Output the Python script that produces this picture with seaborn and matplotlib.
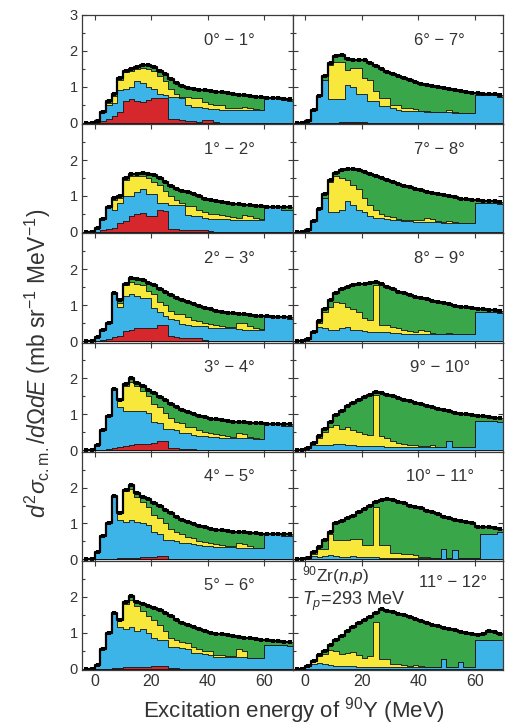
import numpy as np
import pandas as pd
import matplotlib
matplotlib.use("Agg")
import matplotlib.pyplot as plt
from matplotlib.ticker import FixedLocator
import seaborn as sns

# Excitation-energy bins (MeV), 2 MeV wide, from -4 to 70
edges = list(range(-4, 72, 2))
centers = [e + 1 for e in edges[:-1]]

# Each list gives, per bin, the upper edge of a layer (mb sr^-1 MeV^-1).
# "data" is the measured spectrum (green region lies beneath it),
# "yellow", "blue", "red" are the cumulative tops of the lower layers.

data_0_1 = [0, 0, 0.05, 0.30, 0.60, 0.80, 1.25, 1.45, 1.50, 1.55, 1.62, 1.60, 1.55, 1.45, 1.35, 1.22, 1.10,
            1.02, 0.98, 0.95, 0.92, 0.90, 0.88, 0.86, 0.85, 0.83, 0.80, 0.78, 0.76, 0.74, 0.72, 0.71,
            0.70, 0.70, 0.69, 0.67, 0.65]
yellow_0_1 = [0, 0, 0.05, 0.30, 0.55, 0.75, 1.20, 1.40, 1.45, 1.50, 1.52, 1.50, 1.45, 1.30, 1.15, 0.95, 0.80,
              0.72, 0.72, 0.70, 0.68, 0.58, 0.52, 0.50, 0.48, 0.42, 0.40, 0.40, 0.45, 0.42, 0.38, 0.36,
              0.68, 0.70, 0.69, 0.62, 0.60]
blue_0_1 = [0, 0, 0.05, 0.30, 0.50, 0.55, 0.90, 0.95, 1.00, 1.15, 1.10, 1.00, 0.95, 0.80, 0.78, 0.72, 0.72,
            0.70, 0.50, 0.45, 0.45, 0.40, 0.38, 0.38, 0.36, 0.36, 0.35, 0.35, 0.35, 0.35, 0.35, 0.35,
            0.68, 0.70, 0.69, 0.62, 0.60]
red_0_1 = [0, 0, 0.00, 0.05, 0.10, 0.20, 0.30, 0.60, 0.65, 0.60, 0.58, 0.62, 0.70, 0.70, 0.68, 0.10, 0.10,
           0.08, 0.05, 0.05, 0.03, 0.08, 0.08, 0.03, 0, 0, 0, 0, 0, 0, 0, 0,
           0, 0, 0, 0, 0]

data_1_2 = [0, 0, 0.10, 0.35, 0.70, 0.95, 1.00, 1.50, 1.60, 1.62, 1.65, 1.62, 1.58, 1.50, 1.40, 1.28, 1.20,
            1.15, 1.10, 1.05, 1.00, 0.93, 0.90, 0.87, 0.84, 0.81, 0.79, 0.77, 0.75, 0.74, 0.72, 0.71,
            0.70, 0.70, 0.69, 0.68, 0.68]
yellow_1_2 = [0, 0, 0.10, 0.35, 0.70, 0.90, 0.95, 1.45, 1.55, 1.55, 1.55, 1.50, 1.40, 1.30, 1.15, 1.00, 0.90,
              0.80, 0.72, 0.72, 0.62, 0.55, 0.50, 0.50, 0.46, 0.44, 0.42, 0.40, 0.48, 0.45, 0.38, 0.35,
              0.70, 0.70, 0.69, 0.62, 0.62]
blue_1_2 = [0, 0, 0.10, 0.35, 0.70, 0.62, 0.80, 1.00, 1.00, 1.10, 1.20, 1.05, 1.05, 0.80, 0.80, 0.75, 0.75,
            0.75, 0.48, 0.45, 0.45, 0.40, 0.36, 0.36, 0.35, 0.35, 0.34, 0.34, 0.34, 0.34, 0.33, 0.33,
            0.70, 0.70, 0.69, 0.62, 0.62]
red_1_2 = [0, 0, 0.00, 0.05, 0.07, 0.10, 0.26, 0.30, 0.44, 0.50, 0.54, 0.45, 0.44, 0.60, 0.58, 0.07, 0.07,
           0.06, 0.05, 0.05, 0.04, 0.04, 0.03, 0, 0, 0, 0, 0, 0, 0, 0, 0,
           0, 0, 0, 0, 0]

data_2_3 = [0, 0, 0.10, 0.32, 0.50, 1.35, 1.15, 1.60, 1.76, 1.72, 1.70, 1.62, 1.55, 1.46, 1.37, 1.28, 1.20,
            1.14, 1.08, 1.03, 0.97, 0.92, 0.88, 0.84, 0.82, 0.79, 0.77, 0.76, 0.74, 0.72, 0.71, 0.70,
            0.69, 0.68, 0.68, 0.67, 0.67]
yellow_2_3 = [0, 0, 0.10, 0.32, 0.50, 1.35, 1.05, 1.55, 1.65, 1.60, 1.55, 1.40, 1.30, 1.10, 1.00, 0.85, 0.75,
              0.75, 0.68, 0.60, 0.55, 0.50, 0.48, 0.44, 0.42, 0.40, 0.38, 0.50, 0.50, 0.42, 0.35, 0.33,
              0.69, 0.68, 0.68, 0.67, 0.62]
blue_2_3 = [0, 0, 0.10, 0.32, 0.50, 1.35, 0.95, 1.25, 1.30, 1.25, 1.20, 1.20, 0.93, 0.80, 0.70, 0.62, 0.60,
            0.47, 0.46, 0.42, 0.42, 0.42, 0.37, 0.37, 0.36, 0.36, 0.35, 0.33, 0.32, 0.32, 0.30, 0.30,
            0.69, 0.68, 0.68, 0.67, 0.62]
red_2_3 = [0, 0, 0.00, 0.03, 0.05, 0.10, 0.14, 0.28, 0.30, 0.37, 0.37, 0.37, 0.35, 0.46, 0.46, 0.14, 0.12,
           0.09, 0.09, 0.08, 0.08, 0.02, 0, 0, 0, 0, 0, 0, 0, 0, 0, 0,
           0, 0, 0, 0, 0]

data_3_4 = [0, 0, 0.15, 0.55, 0.95, 1.70, 1.40, 1.85, 2.00, 1.88, 1.78, 1.68, 1.58, 1.48, 1.40, 1.30, 1.20,
            1.12, 1.06, 1.00, 0.95, 0.92, 0.88, 0.86, 0.84, 0.82, 0.80, 0.79, 0.78, 0.77, 0.76, 0.75,
            0.74, 0.74, 0.73, 0.72, 0.72]
yellow_3_4 = [0, 0, 0.15, 0.55, 0.95, 1.70, 1.40, 1.80, 1.90, 1.80, 1.65, 1.50, 1.30, 1.20, 1.05, 0.90, 0.80,
              0.75, 0.65, 0.65, 0.55, 0.52, 0.48, 0.45, 0.42, 0.40, 0.38, 0.48, 0.46, 0.38, 0.34, 0.32,
              0.74, 0.74, 0.73, 0.68, 0.68]
blue_3_4 = [0, 0, 0.15, 0.55, 0.95, 1.70, 1.20, 1.10, 1.10, 1.10, 1.08, 1.05, 0.78, 0.75, 0.60, 0.58, 0.55,
            0.49, 0.48, 0.42, 0.40, 0.40, 0.38, 0.36, 0.35, 0.35, 0.35, 0.34, 0.33, 0.33, 0.32, 0.32,
            0.74, 0.74, 0.73, 0.68, 0.68]
red_3_4 = [0, 0, 0.00, 0.02, 0.04, 0.06, 0.08, 0.12, 0.15, 0.17, 0.17, 0.17, 0.20, 0.26, 0.26, 0.07, 0.06,
           0.04, 0.03, 0.03, 0.02, 0, 0, 0, 0, 0, 0, 0, 0, 0, 0, 0,
           0, 0, 0, 0, 0]

data_4_5 = [0, 0, 0.20, 0.65, 1.00, 1.76, 1.30, 1.94, 2.08, 1.85, 1.75, 1.67, 1.58, 1.48, 1.38, 1.28, 1.18,
            1.10, 1.04, 0.98, 0.93, 0.90, 0.86, 0.83, 0.81, 0.79, 0.77, 0.76, 0.75, 0.74, 0.73, 0.72,
            0.72, 0.71, 0.71, 0.70, 0.70]
yellow_4_5 = [0, 0, 0.20, 0.65, 1.00, 1.76, 1.30, 1.90, 1.95, 1.75, 1.60, 1.45, 1.25, 1.15, 1.00, 0.85, 0.75,
              0.70, 0.62, 0.60, 0.52, 0.48, 0.45, 0.42, 0.40, 0.38, 0.36, 0.45, 0.44, 0.36, 0.33, 0.31,
              0.72, 0.71, 0.71, 0.66, 0.66]
blue_4_5 = [0, 0, 0.20, 0.65, 1.00, 1.76, 1.10, 1.05, 1.10, 1.05, 1.00, 0.95, 0.75, 0.72, 0.55, 0.55, 0.52,
            0.46, 0.45, 0.42, 0.40, 0.38, 0.36, 0.35, 0.35, 0.34, 0.34, 0.33, 0.32, 0.32, 0.31, 0.31,
            0.72, 0.71, 0.71, 0.66, 0.66]
red_4_5 = [0, 0, 0, 0, 0.01, 0.02, 0.03, 0.04, 0.05, 0.05, 0.06, 0.06, 0.08, 0.10, 0.10, 0.02, 0.02,
           0.01, 0.01, 0, 0, 0, 0, 0, 0, 0, 0, 0, 0, 0, 0, 0,
           0, 0, 0, 0, 0]

data_5_6 = [0, 0, 0.10, 0.55, 1.00, 1.55, 1.35, 1.85, 2.02, 1.85, 1.80, 1.75, 1.70, 1.62, 1.55, 1.45, 1.35,
            1.28, 1.20, 1.15, 1.10, 1.05, 1.00, 0.97, 0.95, 0.93, 0.90, 0.88, 0.86, 0.84, 0.82, 0.80,
            0.79, 0.77, 0.76, 0.75, 0.73]
yellow_5_6 = [0, 0, 0.10, 0.55, 1.00, 1.55, 1.35, 1.80, 1.90, 1.75, 1.60, 1.45, 1.35, 1.20, 1.05, 0.85, 0.80,
              0.75, 0.70, 0.60, 0.55, 0.50, 0.48, 0.38, 0.37, 0.36, 0.35, 0.55, 0.50, 0.30, 0.30, 0.30,
              0.65, 0.66, 0.66, 0.66, 0.64]
blue_5_6 = [0, 0, 0.10, 0.55, 1.00, 1.55, 1.15, 1.10, 1.15, 1.05, 1.10, 1.00, 0.85, 0.80, 0.80, 0.60, 0.60,
            0.58, 0.55, 0.42, 0.42, 0.40, 0.38, 0.33, 0.32, 0.32, 0.32, 0.32, 0.32, 0.30, 0.30, 0.30,
            0.65, 0.66, 0.66, 0.66, 0.64]
red_5_6 = [0, 0, 0, 0, 0, 0.01, 0.02, 0.03, 0.04, 0.04, 0.05, 0.05, 0.06, 0.07, 0.07, 0.02, 0.01,
           0, 0, 0, 0, 0, 0, 0, 0, 0, 0, 0, 0, 0, 0, 0,
           0, 0, 0, 0, 0]

data_6_7 = [0, 0, 0.05, 0.35, 0.75, 1.30, 1.65, 1.85, 1.90, 1.78, 1.76, 1.76, 1.74, 1.65, 1.58, 1.50, 1.42,
            1.36, 1.30, 1.25, 1.19, 1.13, 1.09, 1.06, 1.03, 1.00, 0.97, 0.94, 0.92, 0.89, 0.86, 0.84,
            0.82, 0.80, 0.80, 0.79, 0.78]
yellow_6_7 = [0, 0, 0.05, 0.35, 0.75, 1.20, 1.62, 1.70, 1.70, 1.48, 1.53, 1.53, 1.25, 1.20, 0.88, 0.70, 0.70,
              0.50, 0.50, 0.42, 0.42, 0.38, 0.32, 0.32, 0.30, 0.30, 0.30, 0.35, 0.30, 0.28, 0.28, 0.28,
              0.76, 0.76, 0.76, 0.76, 0.72]
blue_6_7 = [0, 0, 0.05, 0.35, 0.75, 1.20, 0.65, 0.65, 0.65, 1.05, 1.00, 0.79, 0.79, 0.60, 0.60, 0.46, 0.46,
            0.40, 0.35, 0.32, 0.32, 0.32, 0.32, 0.30, 0.30, 0.30, 0.30, 0.30, 0.28, 0.28, 0.28, 0.28,
            0.76, 0.76, 0.76, 0.76, 0.72]
red_6_7 = [0, 0, 0, 0, 0, 0, 0, 0, 0.01, 0.02, 0.02, 0.02, 0.01, 0, 0, 0, 0,
           0, 0, 0, 0, 0, 0, 0, 0, 0, 0, 0, 0, 0, 0, 0,
           0, 0, 0, 0, 0]

data_7_8 = [0, 0, 0.05, 0.30, 0.65, 1.05, 1.45, 1.65, 1.72, 1.75, 1.75, 1.72, 1.68, 1.62, 1.56, 1.50, 1.45,
            1.40, 1.34, 1.29, 1.24, 1.20, 1.16, 1.12, 1.08, 1.05, 1.02, 0.99, 0.96, 0.93, 0.91, 0.89,
            0.88, 0.87, 0.86, 0.85, 0.84]
yellow_7_8 = [0, 0, 0.05, 0.30, 0.65, 0.95, 1.40, 1.55, 1.50, 1.45, 1.30, 1.20, 0.95, 0.75, 0.60, 0.50, 0.45,
              0.42, 0.36, 0.34, 0.34, 0.32, 0.32, 0.40, 0.36, 0.30, 0.28, 0.30, 0.28, 0.26, 0.26, 0.25,
              0.80, 0.80, 0.80, 0.80, 0.78]
blue_7_8 = [0, 0, 0.05, 0.30, 0.65, 0.95, 0.55, 0.55, 0.60, 0.85, 0.75, 0.60, 0.55, 0.45, 0.40, 0.38, 0.36,
            0.34, 0.32, 0.30, 0.30, 0.28, 0.28, 0.28, 0.27, 0.27, 0.26, 0.26, 0.26, 0.26, 0.26, 0.25,
            0.80, 0.80, 0.80, 0.80, 0.78]

data_8_9 = [0, 0, 0.05, 0.25, 0.55, 0.90, 1.15, 1.35, 1.45, 1.50, 1.55, 1.58, 1.60, 1.62, 1.65, 1.58, 1.50,
            1.44, 1.38, 1.33, 1.28, 1.24, 1.20, 1.16, 1.12, 1.08, 1.05, 1.02, 0.99, 0.96, 0.94, 0.92,
            0.90, 0.88, 0.87, 0.86, 0.85]
yellow_8_9 = [0, 0, 0.05, 0.25, 0.50, 0.80, 0.95, 1.10, 1.05, 0.95, 0.90, 0.80, 0.65, 0.60, 1.55, 0.45, 0.45,
              0.40, 0.36, 0.30, 0.28, 0.25, 0.30, 0.28, 0.22, 0.20, 0.20, 0.22, 0.20, 0.20, 0.20, 0.20,
              0.80, 0.80, 0.80, 0.80, 0.78]
blue_8_9 = [0, 0, 0.05, 0.25, 0.40, 0.35, 0.30, 0.30, 0.35, 0.40, 0.30, 0.30, 0.28, 0.26, 0.25, 0.25, 0.24,
            0.22, 0.22, 0.20, 0.20, 0.20, 0.20, 0.20, 0.20, 0.20, 0.20, 0.20, 0.20, 0.20, 0.20, 0.20,
            0.80, 0.80, 0.80, 0.80, 0.78]

data_9_10 = [0, 0, 0.05, 0.20, 0.40, 0.60, 0.80, 0.98, 1.10, 1.22, 1.32, 1.40, 1.47, 1.53, 1.62, 1.58, 1.54,
             1.50, 1.45, 1.40, 1.36, 1.32, 1.28, 1.24, 1.20, 1.16, 1.12, 1.08, 1.05, 1.02, 1.00, 0.98,
             0.96, 0.94, 0.92, 0.91, 0.90]
yellow_9_10 = [0, 0, 0.05, 0.20, 0.35, 0.50, 0.65, 0.70, 0.60, 0.65, 0.55, 0.50, 0.45, 0.42, 1.55, 0.40, 0.35,
               0.25, 0.20, 0.18, 0.15, 0.15, 0.12, 0.12, 0.15, 0.10, 0.10, 0.25, 0.10, 0.10, 0.10, 0.10,
               0.82, 0.82, 0.82, 0.82, 0.80]
blue_9_10 = [0, 0, 0.05, 0.15, 0.15, 0.15, 0.15, 0.18, 0.18, 0.15, 0.15, 0.12, 0.12, 0.12, 0.12, 0.12, 0.10,
             0.10, 0.10, 0.10, 0.10, 0.10, 0.10, 0.10, 0.10, 0.10, 0.10, 0.25, 0.10, 0.10, 0.10, 0.10,
             0.82, 0.82, 0.82, 0.82, 0.80]

data_10_11 = [0, 0, 0.05, 0.20, 0.35, 0.55, 0.77, 1.00, 1.07, 1.14, 1.22, 1.32, 1.40, 1.50, 1.60, 1.66, 1.69,
              1.65, 1.60, 1.56, 1.50, 1.46, 1.42, 1.36, 1.32, 1.26, 1.19, 1.14, 1.09, 1.07, 1.05, 1.02,
              0.91, 0.91, 0.90, 0.88, 0.86]
yellow_10_11 = [0, 0, 0.05, 0.15, 0.30, 0.30, 0.72, 0.54, 0.54, 0.54, 0.58, 0.58, 0.40, 0.40, 1.46, 0.40, 0.40,
                0.17, 0.17, 0.15, 0.15, 0.12, 0.08, 0.06, 0.05, 0.05, 0.30, 0.05, 0.25, 0.05, 0.05, 0.05,
                0.05, 0.72, 0.72, 0.72, 0.75]
blue_10_11 = [0, 0, 0.05, 0.10, 0.08, 0.10, 0.12, 0.10, 0.08, 0.08, 0.10, 0.08, 0.06, 0.06, 0.06, 0.05, 0.05,
              0.05, 0.05, 0.04, 0.04, 0.04, 0.04, 0.04, 0.04, 0.04, 0.30, 0.05, 0.25, 0.05, 0.05, 0.05,
              0.05, 0.72, 0.72, 0.72, 0.75]

data_11_12 = [0, 0, 0.08, 0.22, 0.38, 0.50, 0.65, 0.79, 0.90, 1.05, 1.16, 1.26, 1.36, 1.44, 1.55, 1.65, 1.60,
              1.57, 1.52, 1.48, 1.44, 1.39, 1.33, 1.28, 1.22, 1.18, 1.14, 1.10, 1.06, 1.02, 0.98, 0.95,
              0.93, 0.97, 1.04, 1.02, 0.96]
yellow_11_12 = [0, 0, 0.08, 0.20, 0.35, 0.40, 0.52, 0.48, 0.40, 0.42, 0.45, 0.38, 0.30, 0.35, 1.30, 0.28, 0.28,
                0.14, 0.14, 0.10, 0.08, 0.10, 0.06, 0.05, 0.04, 0.04, 0.28, 0.04, 0.04, 0.18, 0.04, 0.04,
                0.79, 0.79, 0.79, 0.79, 0.79]
blue_11_12 = [0, 0, 0.08, 0.12, 0.15, 0.12, 0.10, 0.08, 0.06, 0.06, 0.06, 0.05, 0.05, 0.05, 0.05, 0.05, 0.05,
              0.04, 0.04, 0.04, 0.04, 0.04, 0.04, 0.04, 0.04, 0.04, 0.28, 0.04, 0.04, 0.18, 0.04, 0.04,
              0.79, 0.79, 0.79, 0.79, 0.79]

# angular bins: left column 0-6 deg, right column 6-12 deg
panels = [
    ("0° − 1°", data_0_1, yellow_0_1, blue_0_1, red_0_1),
    ("1° − 2°", data_1_2, yellow_1_2, blue_1_2, red_1_2),
    ("2° − 3°", data_2_3, yellow_2_3, blue_2_3, red_2_3),
    ("3° − 4°", data_3_4, yellow_3_4, blue_3_4, red_3_4),
    ("4° − 5°", data_4_5, yellow_4_5, blue_4_5, red_4_5),
    ("5° − 6°", data_5_6, yellow_5_6, blue_5_6, red_5_6),
    ("6° − 7°", data_6_7, yellow_6_7, blue_6_7, red_6_7),
    ("7° − 8°", data_7_8, yellow_7_8, blue_7_8, None),
    ("8° − 9°", data_8_9, yellow_8_9, blue_8_9, None),
    ("9° − 10°", data_9_10, yellow_9_10, blue_9_10, None),
    ("10° − 11°", data_10_11, yellow_10_11, blue_10_11, None),
    ("11° − 12°", data_11_12, yellow_11_12, blue_11_12, None),
]

GREEN = "#3aa64a"
YELLOW = "#f8e83c"
BLUE = "#3db4e8"
RED = "#d6282c"
EDGE = "#111111"
AXC = "#3a3a3a"
TXT = "#333333"

sns.set_theme(style="ticks")
plt.rcParams["font.family"] = ["Liberation Sans", "DejaVu Sans"]
plt.rcParams["mathtext.fontset"] = "custom"
plt.rcParams["mathtext.rm"] = "Liberation Sans"
plt.rcParams["mathtext.it"] = "Liberation Sans:italic"
plt.rcParams["mathtext.bf"] = "Liberation Sans:bold"

fig, axes = plt.subplots(6, 2, figsize=(5.06, 7.26), dpi=100,
                         gridspec_kw=dict(hspace=0, wspace=0))
fig.subplots_adjust(left=82 / 506, right=503 / 506, top=1 - 15 / 726, bottom=1 - 670 / 726)

for k, (label, data, yel, blue, red) in enumerate(panels):
    row, col = k % 6, k // 6
    ax = axes[row, col]
    layers = [(data, GREEN), (yel, YELLOW), (blue, BLUE)]
    if red is not None:
        layers.append((red, RED))
    for levels, color in layers:
        frame = pd.DataFrame({"E": centers, "level": levels})
        sns.histplot(data=frame, x="E", weights="level", bins=edges, element="step", fill=True,
                     color=color, alpha=1, edgecolor=EDGE, linewidth=0.6, ax=ax)
    pts = pd.DataFrame({"E": centers, "xs": data})
    sns.lineplot(data=pts, x="E", y="xs", estimator=None, drawstyle="steps-mid", color="black",
                 linewidth=1.6, marker="s", markersize=3.2, markeredgewidth=0, ax=ax)

    ax.set_xlim(-4.5, 70)
    ax.set_ylim(-0.04, 3.0)
    ax.set_xlabel("")
    ax.set_ylabel("")
    ax.xaxis.set_major_locator(FixedLocator([0, 20, 40, 60]))
    ax.yaxis.set_major_locator(FixedLocator([0, 1, 2, 3] if row == 0 else [0, 1, 2]))
    ax.yaxis.set_minor_locator(FixedLocator([0.5, 1.5, 2.5]))
    ax.tick_params(which="both", direction="in", top=True, right=True, color=AXC,
                   labelcolor=TXT, pad=3)
    ax.tick_params(axis="y", labelsize=10.5)
    ax.tick_params(axis="x", labelsize=11.5)
    ax.tick_params(which="major", length=3.5, width=0.8)
    ax.tick_params(which="minor", length=2, width=0.8)
    ax.tick_params(labelleft=(col == 0), labelbottom=(row == 5))
    for s in ax.spines.values():
        s.set_visible(True)
        s.set_color(AXC)
        s.set_linewidth(0.9)

    if k == 11:
        ax.text(0.765, 0.80, label, transform=ax.transAxes, ha="center", va="center",
                fontsize=12, color=TXT)
        ax.text(0.045, 0.865, r"$^{90}$Zr($n$,$p$)", transform=ax.transAxes, ha="left",
                va="center", fontsize=12.5, color=TXT)
        ax.text(0.045, 0.63, r"$T_p$=293 MeV", transform=ax.transAxes, ha="left",
                va="center", fontsize=13, color=TXT)
    else:
        ax.text(0.70, 0.77, label, transform=ax.transAxes, ha="center", va="center",
                fontsize=12, color=TXT)

fig.text(0.075, 0.50, r"$d^2\sigma_{\rm c.m.}/d\Omega dE$ (mb sr$^{-1}$ MeV$^{-1}$)",
         rotation=90, ha="center", va="center", fontsize=16.5, color=TXT)
fig.text(294 / 506, 1 - 711 / 726, r"Excitation energy of $^{90}$Y (MeV)",
         ha="center", va="center", fontsize=16, color=TXT)

fig.savefig("out.png", dpi=100, facecolor="white")
